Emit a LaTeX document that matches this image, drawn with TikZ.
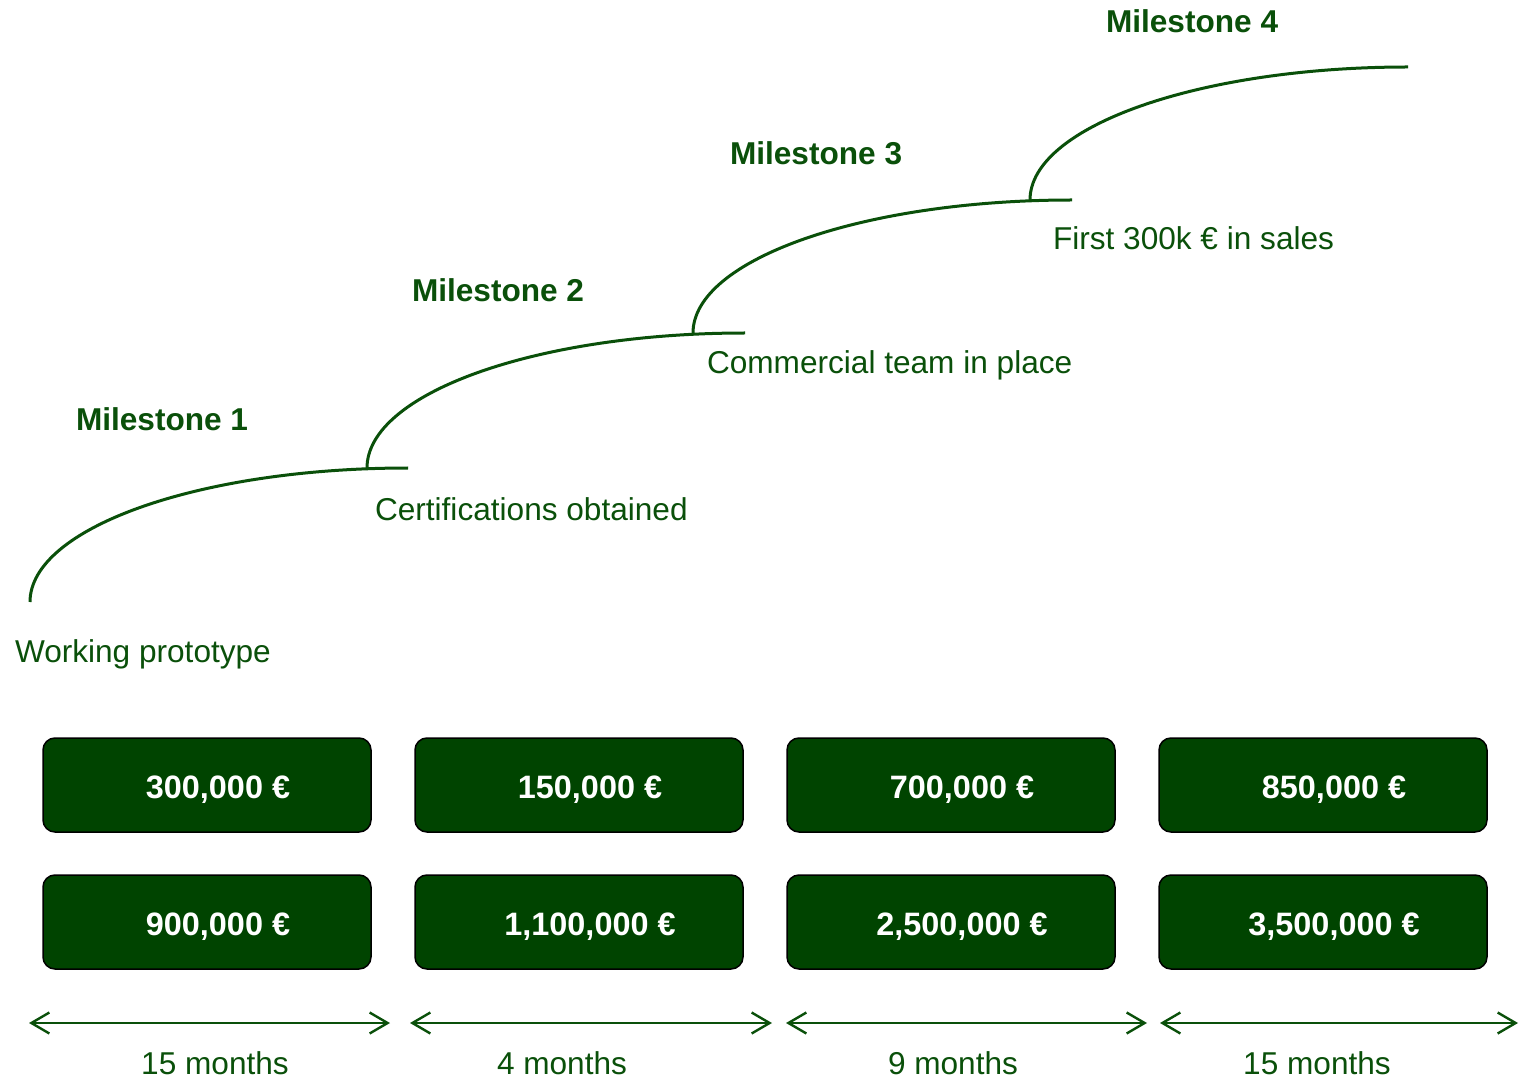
\documentclass[tikz,border=0pt]{standalone}
\usepackage{fontspec}
\setmainfont{Liberation Sans}
\usetikzlibrary{arrows.meta}
\definecolor{dkgreen}{RGB}{10,80,10}
\definecolor{boxgreen}{RGB}{0,68,0}
\begin{document}
\begin{tikzpicture}[x=0.5pt,y=-0.5pt,
  every node/.style={inner sep=0pt,outer sep=0pt,font=\fontsize{15.8}{19}\selectfont},
  curve/.style={draw=dkgreen,line width=1.5pt},
  lbl/.style={anchor=base west,text=dkgreen},
  mlbl/.style={anchor=base west,text=dkgreen,font=\fontsize{15.8}{19}\selectfont\bfseries},
  money/.style={draw=black,line width=0.75pt,fill=boxgreen,rounded corners=6pt,
    minimum width=164pt,minimum height=47pt,text=white,text height=13pt,text depth=0pt,
    font=\fontsize{16.2}{19}\selectfont\bfseries},
  span/.style={draw=dkgreen,line width=1.2pt,{Straight Barb[length=9pt,width=10.5pt]}-{Straight Barb[length=9pt,width=10.5pt]}},
  dur/.style={anchor=base,text=dkgreen}
]
\useasboundingbox (0,0) rectangle (1519,1079);

% stair curves
\coordinate (a1) at (30,602);   \coordinate (b1) at (408,468);
\coordinate (a2) at (367,468);  \coordinate (b2) at (745,333);
\coordinate (a3) at (693,333);  \coordinate (b3) at (1072,200);
\coordinate (a4) at (1030,200); \coordinate (b4) at (1408,67);
\draw[curve] (a1) .. controls (30,528) and (199,468) .. (b1);
\draw[curve] (a2) .. controls (367,393.5) and (536.3,333) .. (b2);
\draw[curve] (a3) .. controls (693,259.6) and (862.8,200) .. (b3);
\draw[curve] (a4) .. controls (1030,126.6) and (1199.3,67) .. (b4);

% labels
\node[lbl] (t1) at (15,662) {Working prototype};
\node[lbl] (t2) at (375,520) {Certifications obtained};
\node[lbl] (t3) at (707,374) {Commercial team in place};
\node[lbl] (t4) at (1053,250) {First 300k € in sales};

\node[mlbl] (m1) at (76,431) {Milestone 1};
\node[mlbl] (m2) at (412,302) {Milestone 2};
\node[mlbl] (m3) at (730,165) {Milestone 3};
\node[mlbl] (m4) at (1106,33) {Milestone 4};

% money boxes
\node[money] (c11) at (207,785) {\hspace*{11pt}300,000 €};
\node[money] (c12) at (579,785) {\hspace*{11pt}150,000 €};
\node[money] (c13) at (951,785) {\hspace*{11pt}700,000 €};
\node[money] (c14) at (1323,785) {\hspace*{11pt}850,000 €};
\node[money] (c21) at (207,922) {\hspace*{11pt}900,000 €};
\node[money] (c22) at (579,922) {\hspace*{11pt}1,100,000 €};
\node[money] (c23) at (951,922) {\hspace*{11pt}2,500,000 €};
\node[money] (c24) at (1323,922) {\hspace*{11pt}3,500,000 €};

% duration arrows
\coordinate (p1) at (29,1023);   \coordinate (q1) at (390,1023);
\coordinate (p2) at (410,1023);  \coordinate (q2) at (772,1023);
\coordinate (p3) at (786,1023);  \coordinate (q3) at (1147,1023);
\coordinate (p4) at (1160,1023); \coordinate (q4) at (1518,1023);
\draw[span] (p1) -- (q1);
\draw[span] (p2) -- (q2);
\draw[span] (p3) -- (q3);
\draw[span] (p4) -- (q4);

\node[dur] (d1) at (215,1074) {15 months};
\node[dur] (d2) at (562,1074) {4 months};
\node[dur] (d3) at (953,1074) {9 months};
\node[dur] (d4) at (1317,1074) {15 months};
\end{tikzpicture}
\end{document}
